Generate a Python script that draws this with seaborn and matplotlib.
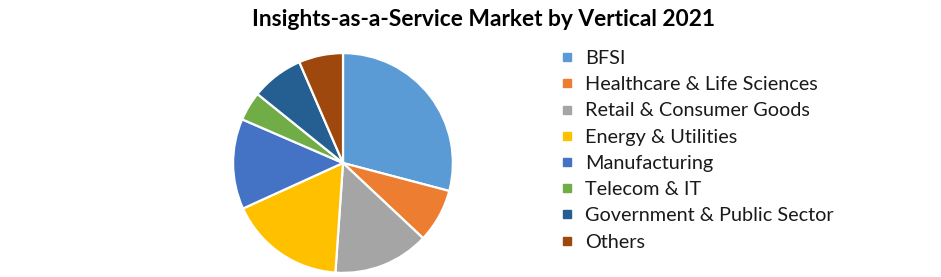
import matplotlib
matplotlib.use("Agg")
import matplotlib.pyplot as plt
import seaborn as sns
from matplotlib.lines import Line2D

sns.set_theme(style="white")
plt.rcParams['font.family'] = ['Lato', 'DejaVu Sans']

categories = ["BFSI", "Healthcare & Life Sciences", "Retail & Consumer Goods",
              "Energy & Utilities", "Manufacturing", "Telecom & IT",
              "Government & Public Sector", "Others"]
shares = [29.1, 7.9, 14.1, 17.1, 13.3, 4.3, 7.7, 6.5]
colors = ["#5B9BD5", "#ED7D31", "#A5A5A5", "#FFC000", "#4472C4", "#70AD47",
          "#255E91", "#9E480E"]

W, H = 941, 277
fig = plt.figure(figsize=(W / 100, H / 100), dpi=100)
fig.patch.set_facecolor("white")

cx, cy, r = 343, 163, 111
ax = fig.add_axes([(cx - r) / W, (H - cy - r) / H, 2 * r / W, 2 * r / H])
ax.pie(shares, colors=colors, startangle=90, counterclock=False, radius=1,
       wedgeprops=dict(edgecolor="white", linewidth=1.6))
ax.set_xlim(-1.01, 1.01)
ax.set_ylim(-1.01, 1.01)
ax.set_aspect("equal")
ax.axis("off")

fig.text(483 / W, 1 - 20 / H, "Insights-as-a-Service Market by Vertical 2021",
         ha="center", va="center", fontsize=16.4, fontweight="bold", color="#000000")

handles = [Line2D([0], [0], marker="s", linestyle="none", markersize=6,
                  markerfacecolor=c, markeredgecolor=c) for c in colors]
leg = fig.legend(handles, categories, loc="upper left",
                 bbox_to_anchor=(558 / W, 1 - 50 / H), frameon=False,
                 fontsize=14.3, handlelength=0.9, handletextpad=0.45,
                 labelspacing=0.465, borderaxespad=0, borderpad=0)
for t in leg.get_texts():
    t.set_color("#1a1a1a")

fig.savefig("out.png", dpi=100, facecolor="white")
